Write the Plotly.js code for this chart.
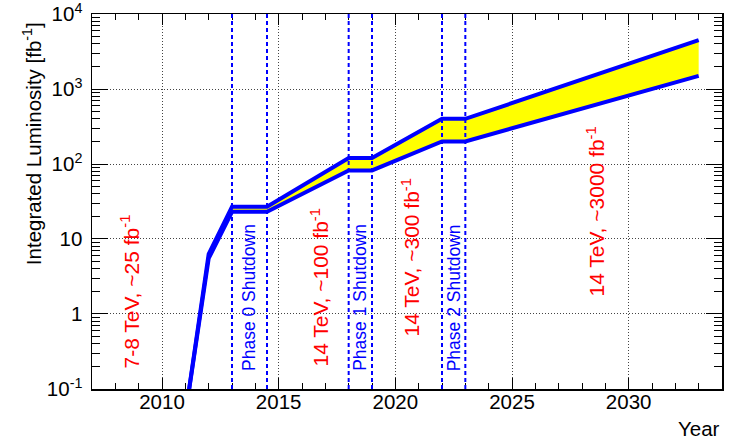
<!DOCTYPE html>
<html>
<head>
<meta charset="utf-8">
<script src="https://cdn.plot.ly/plotly-3.0.1.min.js"></script>
<style>html,body{margin:0;padding:0;background:#fff;}#chart{width:734px;height:441px;}</style>
</head>
<body>
<div id="chart"></div>
<script>
// Data
var years = [2011, 2012, 2013, 2014.5, 2018, 2019, 2022, 2023, 2033];
var lumiLow = [0.045, 5.5, 23, 23, 82, 82, 200, 200, 1500];
var lumiHigh = [0.045, 6.3, 27, 27, 120, 120, 400, 400, 4500];
var shutdownLines = [2013, 2014.5, 2018, 2019, 2022, 2023];
var yTickVals = [0.1, 1, 10, 100, 1000, 10000];
var yTickText = ['10<sup>-1</sup>', '1', '10', '10<sup>2</sup>', '10<sup>3</sup>', '10<sup>4</sup>'];
var xTickVals = [2010, 2015, 2020, 2025, 2030];
var eraLabels = ['7-8 TeV, ~25 fb<sup>-1</sup>', '14 TeV, ~100 fb<sup>-1</sup>', '14 TeV, ~300 fb<sup>-1</sup>', '14 TeV, ~3000 fb<sup>-1</sup>'];
var eraX = [2008.67, 2016.73, 2020.63, 2028.6];
var eraY = [0.30, 0.353, 0.753, 1.367];
var phaseLabels = ['Phase 0 Shutdown', 'Phase 1 Shutdown', 'Phase 2 Shutdown'];
var phaseX = [2013.75, 2018.5, 2022.55];
var phaseY = [0.22, 0.22, 0.22];

var BLUE = '#0000ff';
var FONT = 'Liberation Sans, Arial, Helvetica, sans-serif';
var XR = [2007, 2034];
var YR = [-1.0005, 4.0005];

var traces = [
  {x: years, y: lumiLow, mode: 'lines', line: {width: 0, color: BLUE}, hoverinfo: 'skip', showlegend: false},
  {x: years, y: lumiHigh, mode: 'lines', line: {width: 0, color: BLUE}, fill: 'tonexty', fillcolor: '#ffff00', hoverinfo: 'skip', showlegend: false},
  {x: years, y: lumiLow, mode: 'lines', line: {width: 4, color: BLUE}, showlegend: false},
  {x: years, y: lumiHigh, mode: 'lines', line: {width: 4, color: BLUE}, showlegend: false},
  // invisible helper so the mirrored (top/right) tick axes are drawn
  {x: [years[0]], y: [lumiHigh[0]], xaxis: 'x2', yaxis: 'y2', mode: 'markers', marker: {opacity: 0, size: 1}, hoverinfo: 'skip', showlegend: false}
];

var shapes = shutdownLines.map(function (v) {
  return {type: 'line', xref: 'x', yref: 'paper', x0: v, x1: v, y0: 0, y1: 1,
          line: {color: BLUE, width: 2, dash: '4px,3px'}};
});

var annotations = [];
eraLabels.forEach(function (t, i) {
  annotations.push({text: t, x: eraX[i], y: eraY[i], xref: 'x', yref: 'y', textangle: -90,
    showarrow: false, xanchor: 'center', yanchor: 'middle', font: {family: FONT, size: 21, color: '#ff0000'}});
});
phaseLabels.forEach(function (t, i) {
  annotations.push({text: t, x: phaseX[i], y: phaseY[i], xref: 'x', yref: 'y', textangle: -90,
    showarrow: false, xanchor: 'center', yanchor: 'middle', font: {family: FONT, size: 17.5, color: BLUE}});
});
annotations.push({text: 'Integrated Luminosity [fb<sup>-1</sup>]', xref: 'paper', yref: 'paper',
  x: -0.094, y: 0.655, textangle: -90, showarrow: false, xanchor: 'center', yanchor: 'middle',
  font: {family: FONT, size: 20.5, color: '#000'}});
annotations.push({text: 'Year', xref: 'paper', yref: 'paper', x: 1.0, y: -0.105, showarrow: false,
  xanchor: 'right', yanchor: 'middle', font: {family: FONT, size: 20.5, color: '#000'}});

var gridCommon = {showgrid: true, gridcolor: '#444', gridwidth: 1, griddash: '1px,2px', zeroline: false};

var layout = {
  width: 734, height: 441,
  margin: {l: 92, r: 12, t: 14, b: 52},
  paper_bgcolor: '#fff', plot_bgcolor: '#fff',
  font: {family: FONT, size: 20, color: '#000'},
  showlegend: false,
  xaxis: Object.assign({
    range: XR, tickvals: xTickVals, ticktext: xTickVals.map(String),
    showline: true, linecolor: '#000', linewidth: 1.5, mirror: true,
    ticks: 'inside', ticklen: 11, tickwidth: 1, tickcolor: '#000',
    tickfont: {size: 20.5}, ticklabelstandoff: -6, ticklabeloverflow: 'allow',
    minor: {ticks: 'inside', ticklen: 6, tickwidth: 1, tickcolor: '#000', dtick: 1, tick0: 2007, showgrid: false}
  }, gridCommon),
  yaxis: Object.assign({
    type: 'log', range: YR, tickvals: yTickVals, ticktext: yTickText,
    showline: true, linecolor: '#000', linewidth: 1.5, mirror: true,
    ticks: 'inside', ticklen: 16, tickwidth: 1, tickcolor: '#000',
    tickfont: {size: 20.5}, ticklabelstandoff: 4, ticklabeloverflow: 'allow',
    minor: {ticks: 'inside', ticklen: 8, tickwidth: 1, tickcolor: '#000', dtick: 'D1', showgrid: false}
  }, gridCommon),
  xaxis2: {
    overlaying: 'x', side: 'top', anchor: 'y2', range: XR, tickvals: xTickVals, showticklabels: false,
    ticks: 'inside', ticklen: 11, tickwidth: 1, tickcolor: '#000', showgrid: false, zeroline: false, showline: false,
    minor: {ticks: 'inside', ticklen: 6, tickwidth: 1, tickcolor: '#000', dtick: 1, tick0: 2007, showgrid: false}
  },
  yaxis2: {
    overlaying: 'y', side: 'right', anchor: 'x2', type: 'log', range: YR, tickvals: yTickVals, showticklabels: false,
    ticks: 'inside', ticklen: 16, tickwidth: 1, tickcolor: '#000', showgrid: false, zeroline: false, showline: false,
    minor: {ticks: 'inside', ticklen: 8, tickwidth: 1, tickcolor: '#000', dtick: 'D1', showgrid: false}
  },
  shapes: shapes,
  annotations: annotations
};

Plotly.newPlot('chart', traces, layout, {displayModeBar: false, staticPlot: true});
</script>
</body>
</html>
